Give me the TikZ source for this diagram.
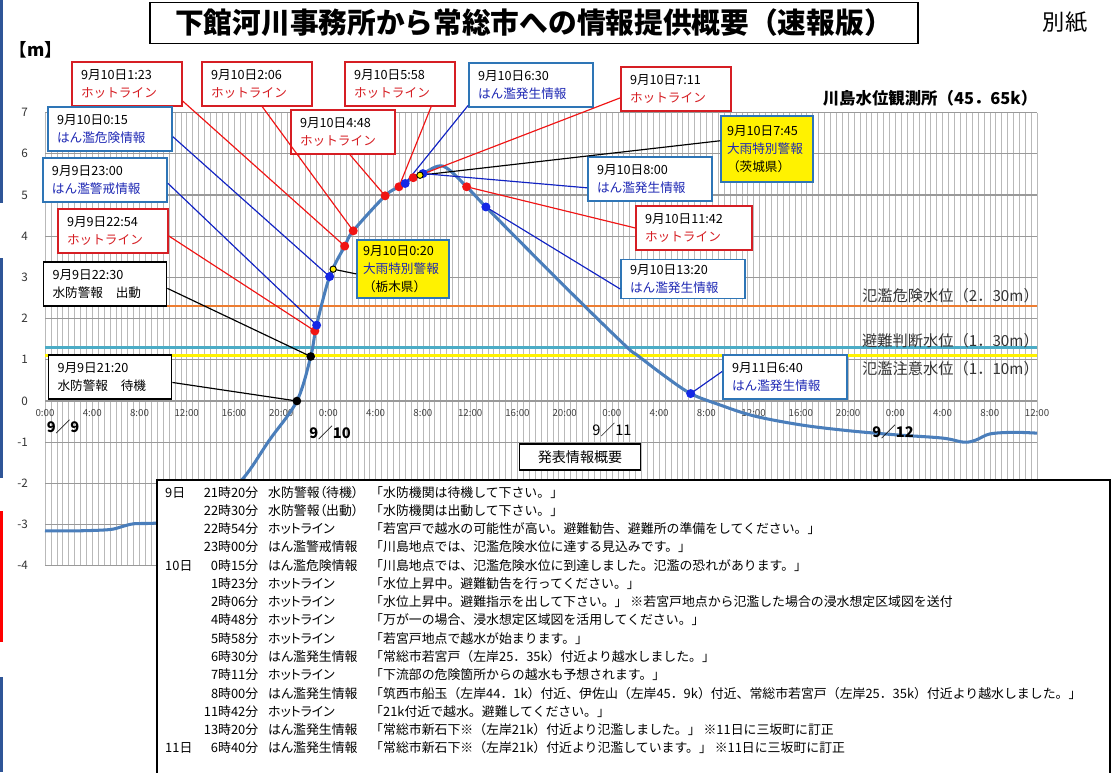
\documentclass[tikz,border=0pt]{standalone}
\usepackage{fontspec}
\setmainfont{Noto Sans CJK JP}
\usepackage{array}

\definecolor{hotred}{RGB}{214,30,36}
\definecolor{infoblue}{RGB}{30,40,180}
\definecolor{frameblue}{RGB}{46,117,182}
\definecolor{dotred}{RGB}{240,20,20}
\definecolor{dotblue}{RGB}{20,40,230}
\definecolor{levelcurve}{RGB}{74,126,187}
\definecolor{gridgray}{RGB}{185,185,185}
\definecolor{dangerorange}{RGB}{237,125,49}
\definecolor{judgecyan}{RGB}{75,172,198}
\definecolor{barblue}{RGB}{47,85,151}

\newcommand{\hotline}{\textcolor{hotred}{ホットライン}}
\newcommand{\infotxt}[1]{\textcolor{infoblue}{#1}}

\begin{document}
\begin{tikzpicture}[x=0.3mm, y=-0.3mm,
  lbl/.style={fill=white, align=left, inner xsep=2.7mm, inner ysep=1mm, minimum height=13.2mm, font=\fontsize{10.8}{15.5}\selectfont},
  redbox/.style={lbl, draw=hotred, line width=1.1pt, text width=27.6mm},
  bluebox/.style={lbl, draw=frameblue, line width=1.5pt, text width=31.8mm},
  blackbox/.style={lbl, draw=black, line width=1.5pt, text width=31.5mm},
  yellowbox/.style={lbl, fill=yellow, draw=frameblue, line width=1.3pt, inner xsep=1.8mm, text width=24mm},
  reddot/.style={circle, fill=dotred, minimum size=2.7mm, inner sep=0pt},
  bluedot/.style={circle, fill=dotblue, minimum size=2.7mm, inner sep=0pt},
  blackdot/.style={circle, fill=black, minimum size=2.6mm, inner sep=0pt},
  yellowdot/.style={circle, fill=yellow, draw=black, line width=0.8pt, minimum size=1.9mm, inner sep=0pt},
  redline/.style={draw=dotred, line width=1pt},
  blueline/.style={draw=dotblue!85!black, line width=1pt},
  blackline/.style={draw=black, line width=1pt},
  ticklbl/.style={font=\fontsize{8.3}{8.3}\selectfont, text=black!75, inner sep=0pt},
  levellbl/.style={anchor=west, font=\fontsize{13}{13}\selectfont, text=black!80, inner sep=0pt},
  daylbl/.style={font=\fontsize{12.5}{12.5}\selectfont, inner sep=0pt}]
\useasboundingbox (0,0) rectangle (1115,772);
\fill[barblue] (0,0) rectangle (3,203);
\fill[barblue] (0,258) rectangle (3,478);
\fill[red] (0,511) rectangle (3,642);
\fill[barblue] (0,677) rectangle (3,772);

\node[draw, line width=1.2pt, minimum width=230.4mm, minimum height=12.3mm, font=\fontsize{24.5}{24.5}\selectfont\bfseries] (title) at (534,23) {下館河川事務所から常総市への情報提供概要（速報版）};
\node[font=\fontsize{19}{19}\selectfont] (annex) at (1065,22) {別紙};
\node[font=\fontsize{15}{15}\selectfont\bfseries] (unit) at (36,50) {【m】};
\node[font=\fontsize{14}{14}\selectfont\bfseries] (station) at (930,98) {川島水位観測所（45．65k）};

% chart: hours from 9/9 0:00, water level in m
\begin{scope}[shift={(45,401)}, x=3.543mm, y=12.36mm]
\foreach \h in {0,0.5,...,84}
  \draw[gridgray, line width=0.5pt] (\h,-4) -- (\h,7);
\foreach \v [count=\k] in {-4,...,7} {
  \draw[black!40, line width=0.9pt] (0,\v) -- (84,\v);
  \node[anchor=east, font=\fontsize{10}{10}\selectfont, text=black!80] (yt\k) at (-1.1,\v) {\v};
}
\foreach \i in {0,...,21} {
  \pgfmathtruncatemacro{\hr}{mod(4*\i,24)}
  \node[ticklbl] (xt\i) at (4*\i,-0.3) {\hr:00};
}
\draw[dangerorange, line width=1.8pt] (0,2.3) -- (84,2.3);
\draw[judgecyan, line width=1.8pt] (0,1.3) -- (84,1.3);
\draw[yellow, line width=2.6pt] (0,1.1) -- (84,1.1);
\draw[levelcurve, line width=2.6pt, line join=round] plot[smooth, tension=0.55] coordinates {
  (0,-3.15) (3,-3.15) (5.5,-3.12) (6.5,-3.05) (7.5,-2.98) (9,-2.97) (10.5,-2.93)
  (12.5,-2.8) (14.5,-2.42) (16.8,-1.87) (19,-0.95) (21.33,0) (22.5,1.08) (23,1.84)
  (24.1,3.02) (25.38,3.76) (26.1,4.13) (28.8,4.98) (29.97,5.2) (31.18,5.42) (32,5.52)
  (33.7,5.7) (35.7,5.2) (37.33,4.71) (41.5,3.5) (45.7,2.3) (49.3,1.3) (50.2,1.1)
  (52.5,0.6) (54.67,0.18) (57,-0.08) (60,-0.36) (64,-0.58) (68,-0.72) (72,-0.82)
  (76,-0.9) (77.8,-1.0) (78.8,-0.95) (80,-0.8) (82,-0.76) (84,-0.78)};
\coordinate (p2120) at (21.33,0);
\coordinate (p2230) at (22.5,1.08);
\coordinate (p2254) at (22.85,1.7);
\coordinate (p2300) at (23,1.84);
\coordinate (p015) at (24.1,3.02);
\coordinate (p020) at (24.4,3.2);
\coordinate (p123) at (25.38,3.76);
\coordinate (p206) at (26.1,4.13);
\coordinate (p448) at (28.8,4.98);
\coordinate (p558) at (29.97,5.2);
\coordinate (p630) at (30.5,5.28);
\coordinate (p711) at (31.18,5.42);
\coordinate (p745) at (31.75,5.48);
\coordinate (p800) at (32,5.52);
\coordinate (p1142) at (35.7,5.2);
\coordinate (p1320) at (37.33,4.71);
\coordinate (p640) at (54.67,0.18);
\end{scope}

\node[daylbl, font=\fontsize{12.5}{12.5}\selectfont\bfseries] (d99) at (63,427) {9／9};
\node[daylbl, font=\fontsize{12.5}{12.5}\selectfont\bfseries] (d910) at (330,433) {9／10};
\node[daylbl] (d911) at (612,430) {9／11};
\node[daylbl, font=\fontsize{12.5}{12.5}\selectfont\bfseries] (d912) at (893,432) {9／12};

\node[levellbl] (lvdanger) at (862,296) {氾濫危険水位（2．30m）};
\node[levellbl] (lvjudge) at (862,341) {避難判断水位（1．30m）};
\node[levellbl] (lvwarn) at (862,369) {氾濫注意水位（1．10m）};

\node[draw, fill=white, line width=1.3pt, minimum width=36.3mm, minimum height=7.8mm, font=\fontsize{12}{12}\selectfont] (summary) at (580,457) {発表情報概要};

% announcement table
\draw[line width=1.5pt, fill=white] (157,480) rectangle (1110,800);
\node[anchor=north west, inner sep=0pt, font=\fontsize{11}{15.6}\selectfont] (tbl) at (165,484) {%
\begin{tabular}{@{}p{10.8mm}@{}>{\raggedleft\arraybackslash}p{17.1mm}@{\hspace{3mm}}>{\addfontfeature{RawFeature=+palt}}p{30.6mm}@{}l@{}}
9日 & 21時20分 & 水防警報（待機） & 「水防機関は待機して下さい。」\\
 & 22時30分 & 水防警報（出動） & 「水防機関は出動して下さい。」\\
 & 22時54分 & ホットライン & 「若宮戸で越水の可能性が高い。避難勧告、避難所の準備をしてください。」\\
 & 23時00分 & はん濫警戒情報 & 「川島地点では、氾濫危険水位に達する見込みです。」\\
10日 & 0時15分 & はん濫危険情報 & 「川島地点では、氾濫危険水位に到達しました。氾濫の恐れがあります。」\\
 & 1時23分 & ホットライン & 「水位上昇中。避難勧告を行ってください。」\\
 & 2時06分 & ホットライン & 「水位上昇中。避難指示を出して下さい。」 ※若宮戸地点から氾濫した場合の浸水想定区域図を送付\\
 & 4時48分 & ホットライン & 「万が一の場合、浸水想定区域図を活用してください。」\\
 & 5時58分 & ホットライン & 「若宮戸地点で越水が始まります。」\\
 & 6時30分 & はん濫発生情報 & 「常総市若宮戸（左岸25．35k）付近より越水しました。」\\
 & 7時11分 & ホットライン & 「下流部の危険箇所からの越水も予想されます。」\\
 & 8時00分 & はん濫発生情報 & 「筑西市船玉（左岸44．1k）付近、伊佐山（左岸45．9k）付近、常総市若宮戸（左岸25．35k）付近より越水しました。」\\
 & 11時42分 & ホットライン & 「21k付近で越水。避難してください。」\\
 & 13時20分 & はん濫発生情報 & 「常総市新石下※（左岸21k）付近より氾濫しました。」 ※11日に三坂町に訂正\\
11日 & 6時40分 & はん濫発生情報 & 「常総市新石下※（左岸21k）付近より氾濫しています。」 ※11日に三坂町に訂正\\
\end{tabular}};

% event labels
\node[redbox] (b123) at (127,84) {9月10日1:23\\\hotline};
\node[redbox] (b206) at (257,84) {9月10日2:06\\\hotline};
\node[redbox] (b558) at (400,84) {9月10日5:58\\\hotline};
\node[bluebox] (b630) at (531,85) {9月10日6:30\\\infotxt{はん濫発生情報}};
\node[redbox] (b711) at (676,89) {9月10日7:11\\\hotline};
\node[bluebox] (b015) at (110,129) {9月10日0:15\\\infotxt{はん濫危険情報}};
\node[redbox, text width=25.8mm] (b448) at (343,132) {9月10日4:48\\\hotline};
\node[yellowbox, minimum height=19.8mm] (b745) at (767,149) {9月10日7:45\\\infotxt{大雨特別警報}\\（茨城県）};
\node[bluebox] (b2300) at (105,180) {9月9日23:00\\\infotxt{はん濫警戒情報}};
\node[bluebox] (b800) at (650,179) {9月10日8:00\\\infotxt{はん濫発生情報}};
\node[redbox] (b2254) at (113,231) {9月9日22:54\\\hotline};
\node[redbox, text width=29.4mm] (b1142) at (694,228) {9月10日11:42\\\hotline};
\node[yellowbox, minimum height=17.4mm] (b020) at (403,269) {9月10日0:20\\\infotxt{大雨特別警報}\\（栃木県）};
\node[bluebox, minimum height=11.7mm] (b1320) at (683,279) {9月10日13:20\\\infotxt{はん濫発生情報}};
\node[blackbox] (b2230) at (105,284) {9月9日22:30\\水防警報　出動};
\node[blackbox] (b2120) at (110,377) {9月9日21:20\\水防警報　待機};
\node[bluebox] (b640) at (785,377) {9月11日6:40\\\infotxt{はん濫発生情報}};

\draw[redline] (b123.-17) -- (p123);
\draw[redline] (b206.-77) -- (p206);
\draw[redline] (b558.-36) -- (p558);
\draw[blueline] (b630.-162) -- (p630);
\draw[redline] (b711.189) -- (p711);
\draw[blueline] (b015.-7) -- (p015);
\draw[redline] (b448.-73) -- (p448);
\draw[blackline] (b745.170) -- (p745);
\draw[blueline] (b2300.-3) -- (p2300);
\draw[blueline] (b800.188) -- (p800);
\draw[redline] (b2254.-5) -- (p2254);
\draw[redline] (b1142.west) -- (p1142);
\draw[blackline] (b020.186) -- (p020);
\draw[blueline] (b1320.189) -- (p1320);
\draw[blackline] (b2230.-4) -- (p2230);
\draw[blackline] (b2120.-5) -- (p2120);
\draw[blueline] (b640.175) -- (p640);

% event markers
\node[blackdot] (d2120) at (p2120) {};
\node[blackdot] (d2230) at (p2230) {};
\node[reddot] (d2254) at (p2254) {};
\node[bluedot] (d2300) at (p2300) {};
\node[bluedot] (d015) at (p015) {};
\node[yellowdot] (d020) at (p020) {};
\node[reddot] (d123) at (p123) {};
\node[reddot] (d206) at (p206) {};
\node[reddot] (d448) at (p448) {};
\node[reddot] (d558) at (p558) {};
\node[bluedot] (d630) at (p630) {};
\node[reddot] (d711) at (p711) {};
\node[bluedot] (d800) at (p800) {};
\node[yellowdot] (d745) at (p745) {};
\node[reddot] (d1142) at (p1142) {};
\node[bluedot] (d1320) at (p1320) {};
\node[bluedot] (d640) at (p640) {};
\end{tikzpicture}
\end{document}
